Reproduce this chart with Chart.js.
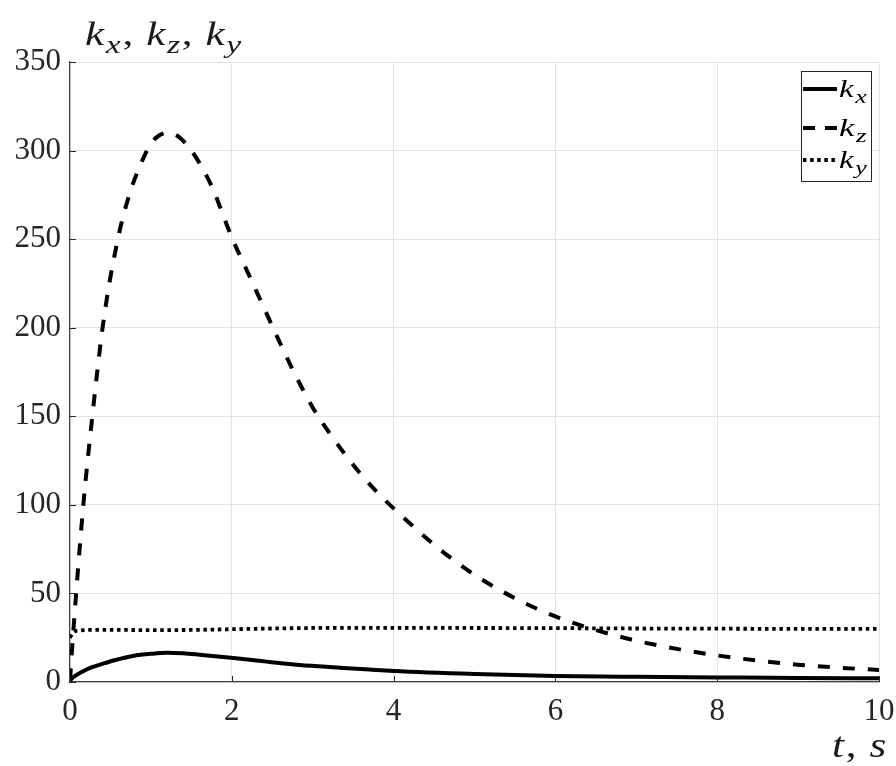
<!DOCTYPE html>
<html><head><meta charset="utf-8">
<script src="https://cdn.jsdelivr.net/npm/chart.js@4"></script>
<style>html,body{margin:0;padding:0;background:#fff}#wrap{width:896px;height:766px}</style>
</head><body><div id="wrap"><canvas id="c" width="896" height="766"></canvas></div>
<script>
// ---- data ----
const tKx = [0, 0.05, 0.15, 0.28, 0.37, 0.55, 0.78, 1.0, 1.2, 1.4, 1.6, 2.02, 2.43, 2.59, 2.84, 3.3, 4.0, 5.0, 6.0, 7.0, 8.0, 9.0, 10];
const kx  = [1, 3, 5.8, 8.5, 9.8, 12.3, 14.7, 15.9, 16.5, 16.2, 15.4, 13.5, 11.5, 10.7, 9.6, 8.2, 6.2, 4.5, 3.4, 2.9, 2.6, 2.3, 2.1];

const tKz = [0, 0.04, 0.165, 0.276, 0.40, 0.49, 0.56, 0.62, 0.70, 0.80, 0.93, 1.0, 1.1, 1.2, 1.3, 1.4, 1.5, 1.6, 1.75, 2.0, 2.2, 2.4, 2.6, 2.8, 3.0, 3.2, 3.4, 3.6, 3.8, 4.0, 4.25, 4.5, 4.75, 5.0, 5.25, 5.5, 5.75, 6.0, 6.25, 6.5, 7.0, 7.5, 8.0, 8.5, 9.0, 9.5, 10];
const kz  = [1, 28, 100, 150, 199, 226, 243, 256, 270, 284, 298, 304, 308.5, 310, 309, 305.5, 300, 293, 280, 251, 231, 211, 191, 172, 155, 141, 128.5, 117, 107, 98, 87.5, 77.5, 68.5, 60.5, 53.5, 47.3, 41.8, 37, 32.9, 29.3, 23.3, 18.7, 15.0, 12.1, 9.8, 8.1, 6.8];

const tKy = [0, 0.03, 0.1, 0.3, 0.6, 1.0, 1.5, 2.0, 2.5, 3.0, 3.5, 4.0, 5.0, 6.0, 7.0, 8.0, 9.0, 10];
const ky  = [25, 27.5, 29, 29.4, 29.4, 29.3, 29.4, 29.8, 30.2, 30.5, 30.6, 30.6, 30.5, 30.4, 30.2, 30.1, 30.0, 30.0];

const xTicks = [0, 2, 4, 6, 8, 10];
const yTicks = [0, 50, 100, 150, 200, 250, 300, 350];
const seriesNames = ['k_x', 'k_z', 'k_y'];
const yTitle = 'k_x, k_z, k_y';
const xTitle = 't, s';

const SERIF = '"Liberation Serif", "DejaVu Serif", serif';

function toPts(ts, vs){ return ts.map((t,i)=>({x:t, y:vs[i]})); }

// simple math text: letters italic, '_' makes the next char a subscript
function drawMath(ctx, str, x, y, size, subRatio, measureOnly){
  let cx = x;
  for (let i=0;i<str.length;i++){
    let ch = str[i], sub = false;
    if (ch === '_'){ sub = true; i++; ch = str[i]; }
    const isLetter = /[A-Za-z]/.test(ch);
    const fs = sub ? size*subRatio : size;
    ctx.font = (isLetter ? 'italic ' : '') + fs + 'px ' + SERIF;
    const dy = sub ? size*0.24 : 0;
    if (!measureOnly) ctx.fillText(ch, cx, y+dy);
    let w = ctx.measureText(ch).width;
    if (ch === ' ') w = size*0.3;
    if (isLetter && !sub) w += size*0.04;
    cx += w + (sub ? size*0.04 : 0);
  }
  return cx - x;
}
function drawMathFit(ctx, str, x, y, size, subRatio, targetW){
  const w = drawMath(ctx, str, 0, 0, size, subRatio, true);
  const sx = targetW / w;
  ctx.save(); ctx.translate(x, y); ctx.scale(sx, 1);
  drawMath(ctx, str, 0, 0, size, subRatio, false);
  ctx.restore();
}

const decor = {
  id: 'decor',
  afterDraw(chart){
    const ctx = chart.ctx, ca = chart.chartArea;
    const xs = chart.scales.x, ys = chart.scales.y;
    ctx.save();
    // inward ticks
    ctx.strokeStyle = '#262626'; ctx.lineWidth = 1;
    ctx.beginPath();
    xTicks.forEach(v=>{ const px = Math.round(xs.getPixelForValue(v))+0.5; ctx.moveTo(px, ca.bottom); ctx.lineTo(px, ca.bottom-6); });
    yTicks.forEach(v=>{ const py = Math.round(ys.getPixelForValue(v))+0.5; ctx.moveTo(ca.left, py); ctx.lineTo(ca.left+6, py); });
    ctx.stroke();
    // axis titles
    ctx.fillStyle = '#1a1a1a'; ctx.textBaseline = 'alphabetic'; ctx.textAlign = 'left';
    drawMathFit(ctx, yTitle, 85, 45, 33, 0.78, 158);
    drawMathFit(ctx, xTitle, 832, 757, 36, 0.78, 56);
    // legend
    const bx = 801.5, by = 71.5, bw = 70, bh = 110;
    ctx.fillStyle = '#fff'; ctx.fillRect(bx, by, bw, bh);
    ctx.strokeStyle = '#262626'; ctx.lineWidth = 1; ctx.strokeRect(bx, by, bw, bh);
    const rows = [89, 128, 160];
    const dashes = [[], [12, 10], [3.5, 3.6]];
    chart.data.datasets.forEach((ds, i)=>{
      ctx.beginPath();
      ctx.setLineDash(dashes[i]); ctx.lineWidth = 4; ctx.strokeStyle = '#000'; ctx.lineCap = 'butt';
      ctx.moveTo(803, rows[i]); ctx.lineTo(837, rows[i]); ctx.stroke();
      ctx.setLineDash([]);
      ctx.fillStyle = '#000';
      drawMathFit(ctx, seriesNames[i], 839, rows[i]+8, 25, 0.78, 29);
    });
    ctx.restore();
  }
};

new Chart(document.getElementById('c'), {
  type: 'scatter',
  data: {
    datasets: [
      { label: 'k_x', data: toPts(tKx, kx), showLine: true, borderColor: '#000', borderWidth: 4, pointRadius: 0, cubicInterpolationMode: 'monotone' },
      { label: 'k_z', data: toPts(tKz, kz), showLine: true, borderColor: '#000', borderWidth: 4, borderDash: [12, 13], pointRadius: 0, cubicInterpolationMode: 'monotone' },
      { label: 'k_y', data: toPts(tKy, ky), showLine: true, borderColor: '#000', borderWidth: 3.8, borderDash: [3.5, 3.7], pointRadius: 0, cubicInterpolationMode: 'monotone' }
    ]
  },
  options: {
    responsive: false, animation: false, devicePixelRatio: 1,
    layout: { padding: { top: 62, right: 17, left: 0, bottom: 0 } },
    plugins: { legend: { display: false }, tooltip: { enabled: false }, title: { display: false } },
    scales: {
      x: {
        type: 'linear', min: 0, max: 10,
        afterBuildTicks: s => { s.ticks = xTicks.map(v=>({value:v})); },
        afterFit: s => { s.height = 84; s.paddingRight = 0; s.paddingLeft = 0; },
        grid: { color: '#e3e3e3', lineWidth: 1, drawTicks: false },
        border: { display: true, color: '#404040', width: 1.2 },
        ticks: { color: '#262626', font: { family: SERIF, size: 31 }, padding: 11, maxRotation: 0 }
      },
      y: {
        type: 'linear', min: 0, max: 350,
        afterBuildTicks: s => { s.ticks = yTicks.map(v=>({value:v})); },
        afterFit: s => { s.width = 70; },
        grid: { color: '#e3e3e3', lineWidth: 1, drawTicks: false },
        border: { display: true, color: '#404040', width: 1.2 },
        ticks: { color: '#262626', font: { family: SERIF, size: 31 }, padding: 9 }
      }
    }
  },
  plugins: [decor]
});
</script>
</body></html>
